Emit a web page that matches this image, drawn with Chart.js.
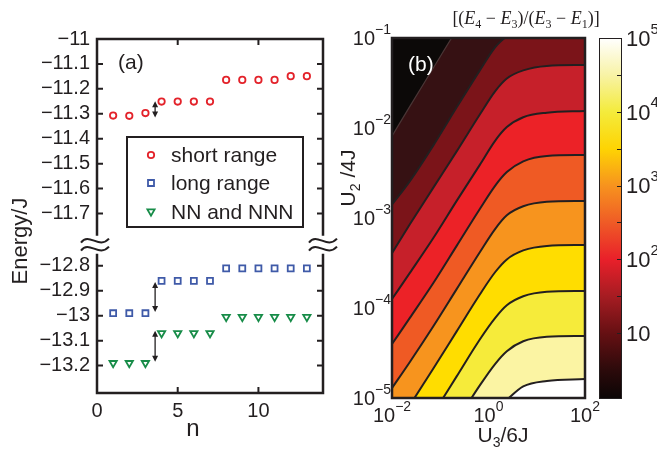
<!DOCTYPE html>
<html>
<head>
<meta charset="utf-8">
<script src="https://cdn.jsdelivr.net/npm/chart.js@4.4.0/dist/chart.umd.min.js"></script>
<style>
  html, body { margin: 0; padding: 0; background: #fff; }
  #wrap { position: relative; width: 657px; height: 453px; overflow: hidden; }
  canvas { position: absolute; top: 0; }
</style>
</head>
<body>
<div id="wrap">
  <canvas id="levels" width="345" height="453" style="left:0"></canvas>
  <canvas id="ratio" width="327" height="453" style="left:330px"></canvas>
  <canvas id="scale" width="62" height="453" style="left:595px"></canvas>
</div>
<script>
const sans = '"Liberation Sans", Arial, Helvetica, sans-serif';
const serif = '"Liberation Serif", "DejaVu Serif", serif';
const ink = '#231f20';

// (a) lowest levels against n
const nValues = [1, 2, 3, 4, 5, 6, 7, 8, 9, 10, 11, 12, 13];
const shortRange = [-11.307, -11.308, -11.297, -11.251, -11.251, -11.251, -11.251, -11.164, -11.164, -11.164, -11.164, -11.149, -11.149];
const longRange = [-12.99, -12.99, -12.99, -12.86, -12.86, -12.86, -12.86, -12.81, -12.81, -12.81, -12.81, -12.81, -12.81];
const nnAndNnn = [-13.19, -13.19, -13.19, -13.07, -13.07, -13.07, -13.07, -13.005, -13.005, -13.005, -13.005, -13.005, -13.005];
const energyTicks = [-11, -11.1, -11.2, -11.3, -11.4, -11.5, -11.6, -11.7, -12.8, -12.9, -13, -13.1, -13.2];
const nTicks = [0, 5, 10];
const gapN = 3.6;
const gaps = [[-11.25, -11.315], [-12.865, -12.985], [-13.06, -13.185]];

// broken energy axis: lower block is drawn breakShift higher
const breakShift = 0.89;
const breakAt = -11.825;
const eTop = -11, eBottom = -13.31;

// (b) contour lines, log10(U3/6J) and log10(U2/4J)
const u3Exp = [-2, -1.63, -1.14, -0.66, -0.18, 0.14, 0.38, 0.72, 1.21, 2];
const contourExp = [
  [-2.09, -1.76, -1.33, -0.91, -0.52, -0.29, -0.16, -0.06, -0.02, -0.01],
  [-2.85, -2.59, -2.19, -1.77, -1.36, -1.10, -0.98, -0.86, -0.80, -0.79],
  [-3.39, -3.07, -2.66, -2.26, -1.85, -1.59, -1.45, -1.36, -1.31, -1.30],
  [-3.90, -3.61, -3.22, -2.81, -2.41, -2.14, -1.99, -1.88, -1.83, -1.81],
  [-4.40, -4.11, -3.72, -3.31, -2.90, -2.64, -2.49, -2.37, -2.31, -2.30],
  [-4.89, -4.60, -4.20, -3.79, -3.38, -3.12, -2.97, -2.87, -2.82, -2.81],
  [-5.38, -5.08, -4.67, -4.26, -3.85, -3.60, -3.46, -3.36, -3.31, -3.30],
  [-5.89, -5.58, -5.17, -4.76, -4.35, -4.11, -3.97, -3.87, -3.82, -3.81],
  [-6.39, -6.08, -5.67, -5.26, -4.86, -4.62, -4.48, -4.37, -4.32, -4.31],
  [-6.87, -6.56, -6.15, -5.74, -5.36, -5.14, -5.02, -4.87, -4.81, -4.79]
];
const bandColors = ['#0c0908', '#361113', '#7b1419', '#c6202a', '#ec2227', '#ef5a24', '#f7941e', '#ffdd00', '#f6eb3a', '#fbf4a3'];
const u3Ticks = [-2, 0, 2];
const u2Ticks = [-1, -2, -3, -4, -5];

// colour bar
const cbRange = [1.28, 100000];
const cbExp = [0.108, 0.5, 1, 1.5, 2, 2.5, 3, 3.5, 4, 4.5, 5];
const cbColors = ['#0a0505', '#2c0a0b', '#661013', '#a61c22', '#e9202a', '#ef5b26', '#f7931e', '#fed403', '#f4eb3c', '#f8f3a6', '#ffffff'];
const cbTicks = [1, 1.5, 2, 2.5, 3, 3.5, 4, 4.5];
const cbLabels = [1, 2, 3, 4, 5];

Chart.defaults.font.family = sans;
Chart.defaults.color = ink;

const toAxis = v => (v < -12.2 ? v + breakShift : v);
const fromAxis = v => (v < breakAt ? v - breakShift : v);
const fmt = v => {
  const r = Math.round(v * 10) / 10;
  return (r < 0 ? '\u2212' : '') + String(Math.abs(r));
};

function drawMarker(ctx, style, x, y, color) {
  ctx.save();
  ctx.strokeStyle = color;
  ctx.lineWidth = 1.8;
  ctx.beginPath();
  if (style === 'circle') {
    ctx.arc(x, y, 3.2, 0, Math.PI * 2);
  } else if (style === 'rect') {
    ctx.rect(x - 3, y - 3, 6, 6);
  } else {
    ctx.moveTo(x - 3.6, y - 2.6);
    ctx.lineTo(x + 3.6, y - 2.6);
    ctx.lineTo(x, y + 3.6);
    ctx.closePath();
  }
  ctx.stroke();
  ctx.restore();
}

function drawPow(ctx, exp, x, y, align, big, small, showExp, color) {
  const sup = exp < 0 ? '\u2212' + (-exp) : String(exp);
  ctx.font = big + 'px ' + sans;
  const wBase = ctx.measureText('10').width;
  ctx.font = small + 'px ' + sans;
  const wSup = showExp ? ctx.measureText(sup).width : 0;
  const total = wBase + wSup;
  const x0 = align === 'right' ? x - total : align === 'center' ? x - total / 2 : x;
  ctx.fillStyle = color || ink;
  ctx.textAlign = 'left';
  ctx.textBaseline = 'alphabetic';
  ctx.font = big + 'px ' + sans;
  ctx.fillText('10', x0, y + big * 0.36);
  if (showExp) {
    ctx.font = small + 'px ' + sans;
    ctx.fillText(sup, x0 + wBase, y - big * 0.2);
  }
}

// pieces: [text, font, baseline shift]
function drawPieces(ctx, pieces, x, y) {
  let total = 0;
  pieces.forEach(p => { ctx.font = p[1]; total += ctx.measureText(p[0]).width; });
  let cx = x - total / 2;
  ctx.textAlign = 'left';
  ctx.textBaseline = 'alphabetic';
  pieces.forEach(p => {
    ctx.font = p[1];
    ctx.fillText(p[0], cx, y + p[2]);
    cx += ctx.measureText(p[0]).width;
  });
}

function tilde(ctx, cx, cy) {
  ctx.beginPath();
  ctx.moveTo(cx - 14, cy + 2);
  ctx.bezierCurveTo(cx - 6, cy - 9, cx + 4, cy + 9, cx + 14, cy - 2);
  ctx.stroke();
}

const levelDecor = {
  id: 'levelDecor',
  afterDraw(chart) {
    const { ctx, chartArea: a, scales: { x, y } } = chart;
    const yb = y.getPixelForValue(breakAt);
    ctx.save();
    ctx.strokeStyle = ink;
    ctx.fillStyle = ink;

    // inward ticks on all four sides
    ctx.lineWidth = 2;
    ctx.beginPath();
    nTicks.forEach(n => {
      const px = x.getPixelForValue(n);
      ctx.moveTo(px, a.bottom); ctx.lineTo(px, a.bottom - 6);
      ctx.moveTo(px, a.top); ctx.lineTo(px, a.top + 6);
    });
    energyTicks.forEach(v => {
      const py = y.getPixelForValue(toAxis(v));
      ctx.moveTo(a.left, py); ctx.lineTo(a.left + 6, py);
      ctx.moveTo(a.right, py); ctx.lineTo(a.right - 6, py);
    });
    ctx.stroke();

    // frame, open at the break
    ctx.lineWidth = 2.5;
    ctx.beginPath();
    ctx.moveTo(a.left, yb - 9); ctx.lineTo(a.left, a.top); ctx.lineTo(a.right, a.top); ctx.lineTo(a.right, yb - 9);
    ctx.moveTo(a.left, yb + 9); ctx.lineTo(a.left, a.bottom); ctx.lineTo(a.right, a.bottom); ctx.lineTo(a.right, yb + 9);
    ctx.stroke();
    ctx.lineWidth = 2;
    [a.left - 2, a.right].forEach(cx => { tilde(ctx, cx, yb - 4); tilde(ctx, cx, yb + 4); });

    // gap arrows
    ctx.lineWidth = 1.3;
    const ax = x.getPixelForValue(gapN);
    gaps.forEach(([v1, v2]) => {
      const y1 = y.getPixelForValue(toAxis(v1));
      const y2 = y.getPixelForValue(toAxis(v2));
      ctx.beginPath(); ctx.moveTo(ax, y1 + 4); ctx.lineTo(ax, y2 - 4); ctx.stroke();
      ctx.beginPath();
      ctx.moveTo(ax, y1); ctx.lineTo(ax - 3, y1 + 6); ctx.lineTo(ax + 3, y1 + 6); ctx.closePath();
      ctx.moveTo(ax, y2); ctx.lineTo(ax - 3, y2 - 6); ctx.lineTo(ax + 3, y2 - 6); ctx.closePath();
      ctx.fill();
    });

    // legend
    ctx.lineWidth = 2;
    ctx.fillStyle = '#fff';
    ctx.fillRect(127, 137, 176, 90);
    ctx.strokeRect(127, 137, 176, 90);
    const entries = [
      ['short range', 'circle', '#e3222a', 155],
      ['long range', 'rect', '#3f5aa8', 183],
      ['NN and NNN', 'triangle', '#178c48', 212]
    ];
    ctx.font = '21px ' + sans;
    ctx.textBaseline = 'middle';
    ctx.textAlign = 'left';
    entries.forEach(([label, style, color, ly]) => {
      drawMarker(ctx, style, 151, ly, color);
      ctx.fillStyle = ink;
      ctx.fillText(label, 171, ly + 1);
    });

    // labels
    ctx.fillStyle = ink;
    ctx.font = '21px ' + sans;
    ctx.fillText('(a)', 118, 63);
    ctx.textAlign = 'center';
    ctx.textBaseline = 'alphabetic';
    ctx.font = '24px ' + sans;
    ctx.fillText('n', 193, 436);
    ctx.save();
    ctx.translate(27, 241);
    ctx.rotate(-Math.PI / 2);
    ctx.font = '22px ' + sans;
    ctx.fillText('Energy/J', 0, 0);
    ctx.restore();
    ctx.restore();
  }
};

new Chart(document.getElementById('levels'), {
  type: 'scatter',
  data: {
    datasets: [
      { label: 'short range', data: nValues.map((n, i) => ({ x: n, y: toAxis(shortRange[i]) })),
        pointStyle: 'circle', pointRadius: 3.2, pointBorderWidth: 1.8, pointBorderColor: '#e3222a', pointBackgroundColor: 'rgba(0,0,0,0)' },
      { label: 'long range', data: nValues.map((n, i) => ({ x: n, y: toAxis(longRange[i]) })),
        pointStyle: 'rect', pointRadius: 4.2, pointBorderWidth: 1.8, pointBorderColor: '#3f5aa8', pointBackgroundColor: 'rgba(0,0,0,0)' },
      { label: 'NN and NNN', data: nValues.map((n, i) => ({ x: n, y: toAxis(nnAndNnn[i]) })),
        pointStyle: 'triangle', pointRotation: 180, pointRadius: 4.2, pointBorderWidth: 1.8, pointBorderColor: '#178c48', pointBackgroundColor: 'rgba(0,0,0,0)' }
    ]
  },
  options: {
    responsive: false,
    animation: false,
    devicePixelRatio: 1,
    layout: { padding: { top: 39, right: 22, left: 0, bottom: 0 } },
    plugins: { legend: { display: false }, tooltip: { enabled: false } },
    scales: {
      x: {
        type: 'linear', min: 0, max: 14,
        grid: { display: false, drawTicks: false }, border: { display: false },
        ticks: { padding: 6, font: { size: 20 }, color: ink, autoSkip: false },
        afterBuildTicks: s => { s.ticks = nTicks.map(v => ({ value: v })); },
        afterFit: s => { s.height = 60; }
      },
      y: {
        type: 'linear', min: eBottom + breakShift, max: eTop,
        grid: { display: false, drawTicks: false }, border: { display: false },
        ticks: { padding: 7, font: { size: 20 }, color: ink, autoSkip: false, callback: v => fmt(fromAxis(v)) },
        afterBuildTicks: s => { s.ticks = energyTicks.map(toAxis).sort((p, q) => p - q).map(v => ({ value: v })); },
        afterFit: s => { s.width = 97; }
      }
    }
  },
  plugins: [levelDecor]
});

const ratioDecor = {
  id: 'ratioDecor',
  afterDraw(chart) {
    const { ctx, chartArea: a, scales: { x, y } } = chart;
    ctx.save();
    ctx.strokeStyle = ink;
    ctx.lineWidth = 2.5;
    ctx.strokeRect(a.left, a.top, a.right - a.left, a.bottom - a.top);
    u2Ticks.forEach(e => drawPow(ctx, e, a.left - 1, y.getPixelForValue(Math.pow(10, e)), 'right', 20, 14, true));
    u3Ticks.forEach(e => drawPow(ctx, e, x.getPixelForValue(Math.pow(10, e)), 415, 'center', 20, 14, true));

    ctx.fillStyle = '#fff';
    ctx.font = '21px ' + sans;
    ctx.textAlign = 'left';
    ctx.textBaseline = 'middle';
    ctx.fillText('(b)', 78, 65);

    ctx.fillStyle = ink;
    const big = '21px ' + sans, small = '14px ' + sans;
    drawPieces(ctx, [['U', big, 0], ['3', small, 5], ['/6J', big, 0]], 173, 442);
    ctx.save();
    ctx.translate(25, 178);
    ctx.rotate(-Math.PI / 2);
    drawPieces(ctx, [['U', big, 0], ['2', small, 5], [' /4J', big, 0]], 0, 0);
    ctx.restore();

    const rm = '18px ' + serif, it = 'italic 18px ' + serif, sb = '12px ' + serif;
    drawPieces(ctx, [
      ['[(', rm, 0], ['E', it, 0], ['4', sb, 4], [' \u2212 ', rm, 0], ['E', it, 0], ['3', sb, 4],
      [')/(', rm, 0], ['E', it, 0], ['3', sb, 4], [' \u2212 ', rm, 0], ['E', it, 0], ['1', sb, 4], [')]', rm, 0]
    ], 196, 24);
    ctx.restore();
  }
};

new Chart(document.getElementById('ratio'), {
  type: 'line',
  data: {
    datasets: contourExp.map((line, k) => ({
      data: u3Exp.map((e, i) => ({ x: Math.pow(10, e), y: Math.pow(10, line[i]) })),
      fill: 'end',
      backgroundColor: bandColors[k],
      borderColor: k === 0 ? '#4a3636' : ink,
      borderWidth: k === 0 ? 1.2 : 2,
      pointRadius: 0,
      cubicInterpolationMode: 'monotone'
    }))
  },
  options: {
    responsive: false,
    animation: false,
    devicePixelRatio: 1,
    layout: { padding: { top: 38, right: 72, left: 0, bottom: 0 } },
    plugins: { legend: { display: false }, tooltip: { enabled: false } },
    scales: {
      x: {
        type: 'logarithmic', min: 0.01, max: 100,
        grid: { display: false, drawTicks: false }, border: { display: false },
        ticks: { display: false },
        afterFit: s => { s.height = 55; }
      },
      y: {
        type: 'logarithmic', min: 1e-5, max: 0.1,
        grid: { display: false, drawTicks: false }, border: { display: false },
        ticks: { display: false },
        afterFit: s => { s.width = 62; }
      }
    }
  },
  plugins: [ratioDecor]
});

const scaleDecor = {
  id: 'scaleDecor',
  afterDraw(chart) {
    const { ctx, chartArea: a, scales: { y } } = chart;
    ctx.save();
    ctx.strokeStyle = ink;
    ctx.lineWidth = 1;
    ctx.strokeRect(a.left + 0.5, a.top + 0.5, a.right - a.left - 1, a.bottom - a.top - 1);
    ctx.beginPath();
    cbTicks.forEach(e => {
      const py = Math.round(y.getPixelForValue(Math.pow(10, e))) + 0.5;
      ctx.moveTo(a.right, py); ctx.lineTo(a.right - 5, py);
    });
    ctx.stroke();
    cbLabels.forEach(e => drawPow(ctx, e, a.right + 4, y.getPixelForValue(Math.pow(10, e)), 'left', 22, 15, e !== 1));
    ctx.restore();
  }
};

new Chart(document.getElementById('scale'), {
  type: 'bar',
  data: {
    labels: [''],
    datasets: [{
      data: [cbRange],
      borderWidth: 0,
      barPercentage: 1,
      categoryPercentage: 1,
      backgroundColor: c => {
        const area = c.chart.chartArea;
        if (!area) return '#888';
        const ys = c.chart.scales.y;
        const g = c.chart.ctx.createLinearGradient(0, area.bottom, 0, area.top);
        cbExp.forEach((e, i) => {
          const f = (area.bottom - ys.getPixelForValue(Math.pow(10, e))) / (area.bottom - area.top);
          g.addColorStop(Math.min(1, Math.max(0, f)), cbColors[i]);
        });
        return g;
      }
    }]
  },
  options: {
    responsive: false,
    animation: false,
    devicePixelRatio: 1,
    layout: { padding: { top: 38, left: 4, right: 35, bottom: 54 } },
    plugins: { legend: { display: false }, tooltip: { enabled: false } },
    scales: {
      x: { display: false },
      y: { type: 'logarithmic', display: false, min: cbRange[0], max: cbRange[1] }
    }
  },
  plugins: [scaleDecor]
});
</script>
</body>
</html>
